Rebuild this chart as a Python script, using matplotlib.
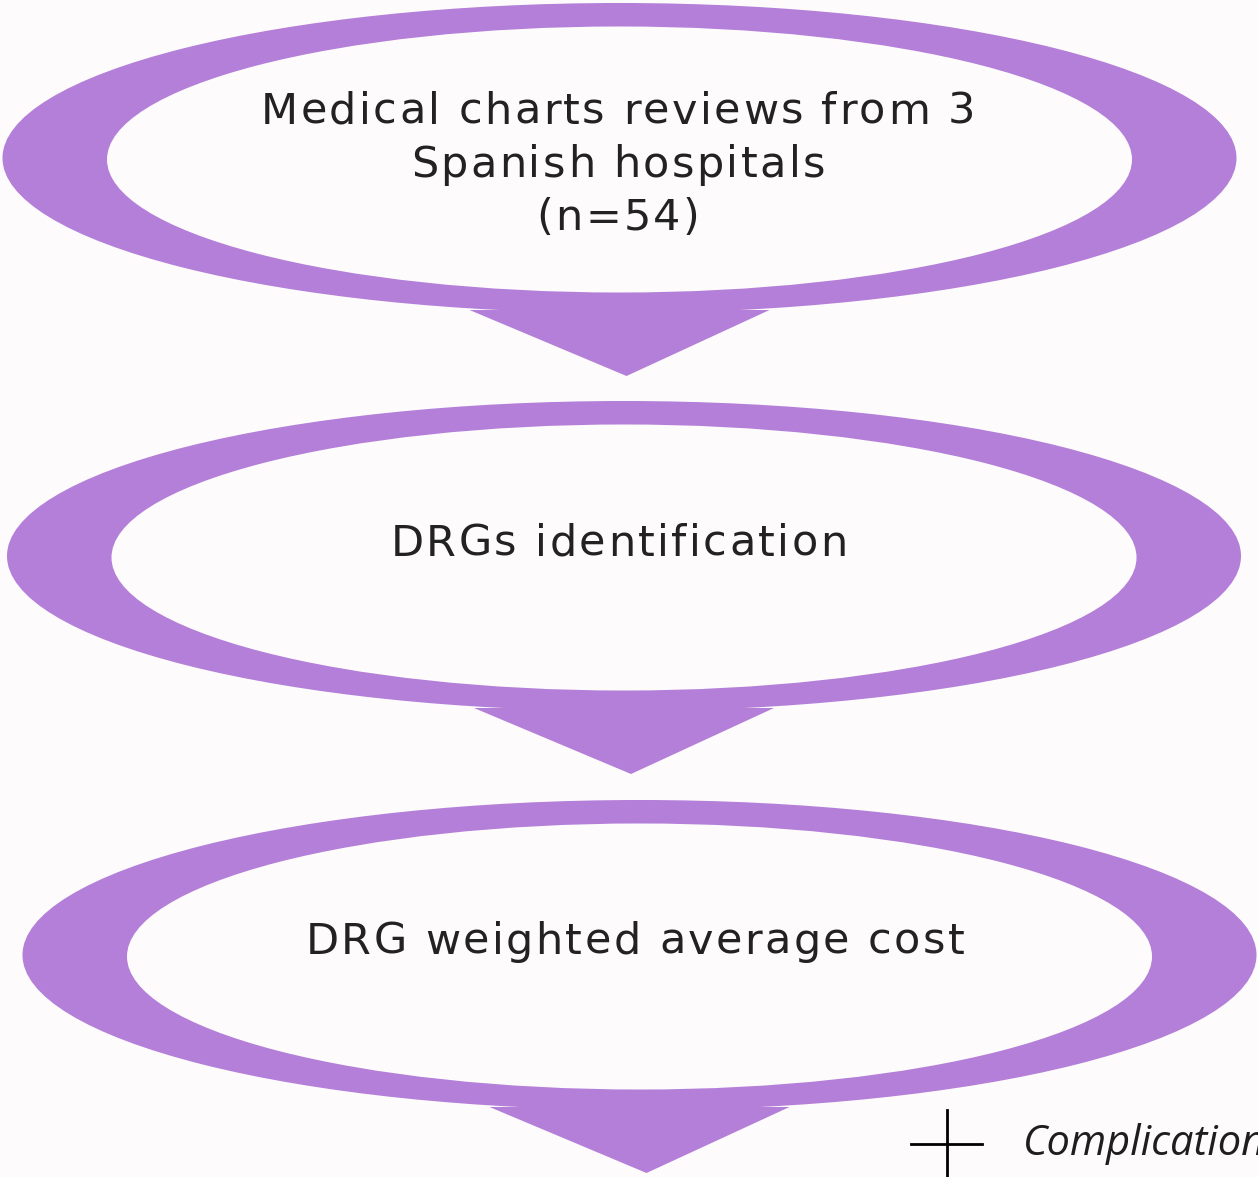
import matplotlib.pyplot as plt
from matplotlib.patches import Ellipse, Polygon
from matplotlib.font_manager import FontProperties, findfont, get_font

# flow steps, top to bottom (one list of lines per step)
steps = [
    ["Medical charts reviews from 3", "Spanish hospitals", "(n=54)"],
    ["DRGs identification"],
    ["DRG weighted average cost"],
]
side_note = "Complication"

# layout (pixels, y pointing down)
centers = [(619.5, 158), (624, 556), (639.5, 955)]
text_x = [618, 619, 635]
first_baseline = [124, 556, 954]
line_step = 53
outer_w, outer_h = 1234, 310
inner_w, inner_h = 1025, 266
tri_half, tri_drop, tri_top = 150, 66, 152

purple = "#b47fd8"
bg = "#fdfbfc"
ink = "#222222"

W, H = 1258, 1177
DPI = 100
fig = plt.figure(figsize=(W / DPI, H / DPI), dpi=DPI, facecolor=bg)
ax = fig.add_axes([0, 0, 1, 1])
ax.set_xlim(0, W)
ax.set_ylim(H, 0)
ax.axis("off")

FSIZE = 31
TRACK = 2.4
prop = FontProperties(family="DejaVu Sans", size=FSIZE)
ftfont = get_font(findfont(prop))
ftfont.set_size(FSIZE, DPI)


def tracked_line(x_mid, y_base, s):
    # letter-spaced line: one text per glyph, centred on x_mid
    advs = [ftfont.load_char(ord(ch)).linearHoriAdvance / 65536 for ch in s]
    total = sum(advs) + TRACK * (len(s) - 1)
    x = x_mid - total / 2
    for ch, adv in zip(s, advs):
        if ch != " ":
            ax.text(x, y_base, ch, ha="left", va="baseline",
                    fontproperties=prop, color=ink, zorder=3)
        x += adv + TRACK


for (cx, cy), lines, tx, yb in zip(centers, steps, text_x, first_baseline):
    ax.add_patch(Ellipse((cx, cy), outer_w, outer_h, facecolor=purple,
                         edgecolor="none", zorder=1))
    tip_x = cx + 7
    ax.add_patch(Polygon([(tip_x - tri_half - 7, cy + tri_top),
                          (tip_x + tri_half - 7, cy + tri_top),
                          (tip_x, cy + tri_top + tri_drop)],
                         closed=True, facecolor=purple, edgecolor="none",
                         zorder=1))
    ax.add_patch(Ellipse((cx, cy + 1.5), inner_w, inner_h, facecolor=bg,
                         edgecolor="none", zorder=2))
    for k, line in enumerate(lines):
        tracked_line(tx, yb + k * line_step, line)

# stray legend fragment at bottom right (cut by the right edge, as in the source)
ax.plot([911, 982], [1144, 1144], color="black", lw=2, zorder=3)
ax.plot([947, 947], [1110, 1177], color="black", lw=2, zorder=3)
ax.text(1023, 1155, side_note, ha="left", va="baseline", fontsize=30,
        style="italic", family="Open Sans", color="#1e1e1e", zorder=3,
        clip_on=False)

fig.savefig("out.png", dpi=DPI, facecolor=bg)
